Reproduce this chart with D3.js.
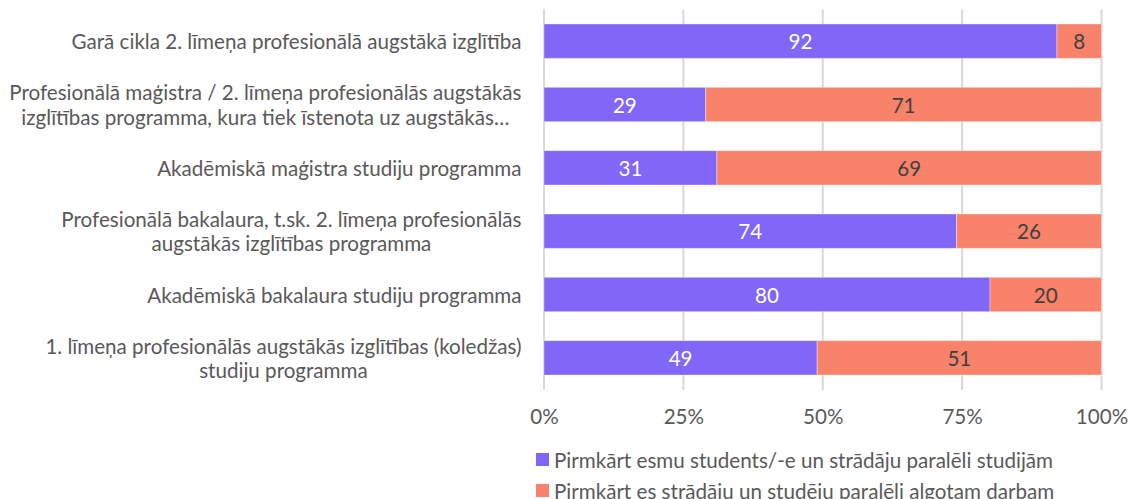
<!DOCTYPE html>
<html><head><meta charset="utf-8">
<script src="https://cdn.jsdelivr.net/npm/d3@7"></script>
<style>body{margin:0;background:#fff} text{font-family:Lato,"Open Sans",sans-serif}</style></head>
<body><svg id="c" width="1128" height="499"></svg>
<script>
// ---- data ----
const categories = [
  ["Garā cikla 2. līmeņa profesionālā augstākā izglītība"],
  ["Profesionālā maģistra / 2. līmeņa profesionālās augstākās", "izglītības programma, kura tiek īstenota uz augstākās…"],
  ["Akadēmiskā maģistra studiju programma"],
  ["Profesionālā bakalaura, t.sk. 2. līmeņa profesionālās", "augstākās izglītības programma"],
  ["Akadēmiskā bakalaura studiju programma"],
  ["1. līmeņa profesionālās augstākās izglītības (koledžas)", "studiju programma"]
];
const seriesNames = [
  "Pirmkārt esmu students/-e un strādāju paralēli studijām",
  "Pirmkārt es strādāju un studēju paralēli algotam darbam"
];
const studentFirst = [92, 29, 31, 74, 80, 49];
const workFirst    = [8, 71, 69, 26, 20, 51];
const tickValues = [0, 25, 50, 75, 100];
const tickLabels = ["0%", "25%", "50%", "75%", "100%"];

// ---- layout ----
const colors = ["#8167F8", "#F9826A"];
const labelColors = ["#ffffff", "#404040"];
const fs = 20.6;
const svg = d3.select("#c");
const x = d3.scaleLinear().domain([0, 100]).range([544, 1101.5]);
const y = d3.scaleBand().domain(d3.range(categories.length)).range([9.5, 389.5]).paddingInner(0.458).paddingOuter(0.229);

// gridlines
svg.append("g").selectAll("line").data(tickValues).join("line")
  .attr("x1", d => x(d)).attr("x2", d => x(d))
  .attr("y1", 9.5).attr("y2", 390)
  .attr("stroke", "#d9d9d9").attr("stroke-width", 2);

// tick labels via axis
const ax = svg.append("g").attr("transform", "translate(0,390)")
  .call(d3.axisBottom(x).tickValues(tickValues).tickFormat((d, i) => tickLabels[i]).tickSize(0).tickPadding(19));
ax.select(".domain").remove();
ax.selectAll("text").style("font-family", "Lato").style("font-size", fs + "px").attr("fill", "#595959");

// stacked data
const rows = studentFirst.map((v, i) => ({ i, vals: [v, workFirst[i]] }));
const stack = d3.stack().keys([0, 1]).value((d, k) => d.vals[k]);
const stacked = stack(rows);

stacked.forEach((s, k) => {
  const g = svg.append("g");
  g.selectAll("rect").data(s).join("rect")
    .attr("x", d => x(d[0])).attr("width", d => x(d[1]) - x(d[0]))
    .attr("y", d => y(d.data.i)).attr("height", y.bandwidth())
    .attr("fill", colors[k])
    .attr("stroke", "rgba(255,255,255,0.35)").attr("stroke-width", 1);
  g.selectAll("text").data(s).join("text")
    .attr("x", d => (x(d[0]) + x(d[1])) / 2)
    .attr("y", d => y(d.data.i) + y.bandwidth() / 2)
    .attr("text-anchor", "middle").attr("dominant-baseline", "central")
    .style("font-size", fs + "px").attr("fill", labelColors[k])
    .text(d => d.data.vals[k]);
});

// category labels: block right-aligned, lines centered within block
const lineH = 24.5;
categories.forEach((lines, i) => {
  const g = svg.append("g");
  const ts = lines.map((l, j) => g.append("text")
    .attr("y", y(i) + y.bandwidth() / 2 + (j - (lines.length - 1) / 2) * lineH)
    .attr("dominant-baseline", "central").attr("text-anchor", "middle")
    .style("font-size", fs + "px").attr("fill", "#595959").text(l));
  const w = d3.max(ts, t => t.node().getComputedTextLength());
  const cx = x(0) - 22.5 - w / 2;
  ts.forEach(t => t.attr("x", cx));
});

// legend
const leg = svg.append("g");
seriesNames.forEach((n, k) => {
  const cy = 459.5 + k * 31;
  leg.append("rect").attr("x", 536).attr("y", cy - 6.5).attr("width", 13).attr("height", 13).attr("fill", colors[k]);
  leg.append("text").attr("x", 554).attr("y", cy).attr("dominant-baseline", "central")
    .style("font-size", fs + "px").attr("fill", "#595959").text(n);
});
</script></body></html>
